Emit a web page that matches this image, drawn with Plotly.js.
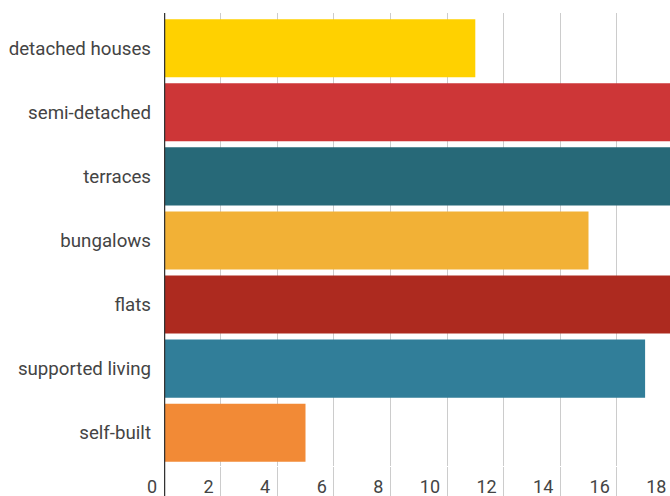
<!DOCTYPE html>
<html>
<head>
<meta charset="utf-8">
<script src="https://cdn.plot.ly/plotly-3.0.1.min.js"></script>
<style>
  html, body { margin: 0; padding: 0; overflow: hidden; background: #fff; }
  #chart { width: 730px; height: 496px; }
</style>
</head>
<body>
<div id="chart"></div>
<script>
const categories = ["detached houses", "semi-detached", "terraces", "bungalows", "flats", "supported living", "self-built"];
const values = [11, 20, 20, 15, 20, 17, 5];
const colors = ["#FFD100", "#CD3637", "#276978", "#F2B136", "#AD2A1F", "#317E99", "#F28A36"];
const xTicks = [0, 2, 4, 6, 8, 10, 12, 14, 16, 18];

const trace = {
  type: "bar",
  orientation: "h",
  y: categories,
  x: values,
  marker: { color: colors },
  hoverinfo: "x+y"
};

const layout = {
  width: 730,
  height: 496,
  margin: { l: 164, r: 0, t: 13, b: 30 },
  paper_bgcolor: "#fff",
  plot_bgcolor: "#fff",
  showlegend: false,
  bargap: 0.094,
  font: { family: "Roboto, sans-serif", size: 18, color: "#444" },
  xaxis: {
    range: [0, 20],
    tickvals: xTicks,
    ticktext: xTicks.map(v => String(v) + "\u00A0<span style='font-size:8px'>\u00A0</span>"),
    showgrid: true,
    gridcolor: "#cccccc",
    gridwidth: 1,
    zeroline: false,
    showline: false,
    ticks: "outside",
    ticklen: 30,
    tickcolor: "#cccccc",
    tickwidth: 1,
    ticklabelposition: "outside left",
    ticklabelstandoff: 4,
    tickfont: { family: "Roboto, sans-serif", size: 18, color: "#444" }
  },
  yaxis: {
    type: "category",
    categoryorder: "array",
    categoryarray: categories,
    range: [6.52, -0.55],
    showgrid: false,
    zeroline: false,
    showline: false,
    ticks: "",
    ticklabelstandoff: 12,
    tickfont: { family: "Roboto, sans-serif", size: 18.7, color: "#444" }
  },
  shapes: [{
    type: "line",
    xref: "x", yref: "paper",
    x0: 0, x1: 0, y0: -0.2, y1: 1,
    line: { color: "#333", width: 2.5 },
    layer: "above"
  }]
};

Plotly.newPlot("chart", [trace], layout, { displayModeBar: false, staticPlot: true });
</script>
</body>
</html>
